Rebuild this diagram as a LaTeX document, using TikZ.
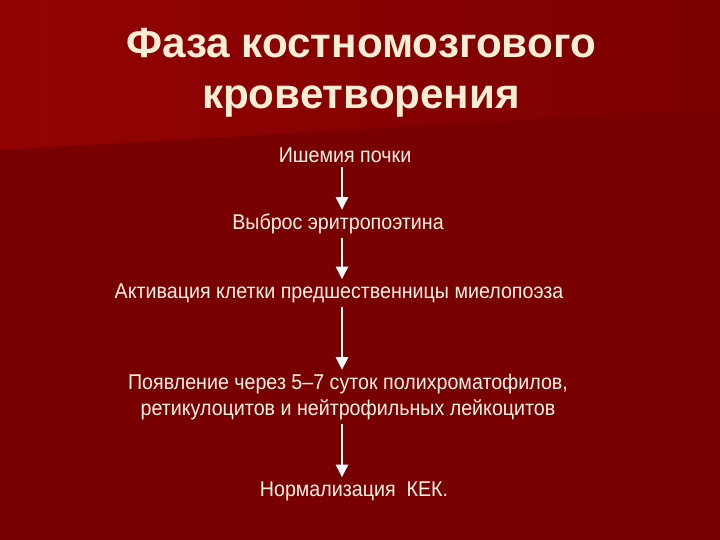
\documentclass[tikz,border=0pt]{standalone}
\usepackage{fontspec}
\setmainfont{Liberation Sans}
\newfontfamily\stagefont[FakeStretch=0.92]{Liberation Sans}
\usepackage{xcolor}
\usetikzlibrary{arrows.meta, positioning, calc}
\definecolor{bgDark}{HTML}{790000}
\definecolor{bgLight}{HTML}{930303}
\definecolor{bgMid}{HTML}{7C0000}
\definecolor{txtCream}{HTML}{FBF2E4}
\definecolor{ttlCream}{HTML}{F8EED6}

\begin{document}
\begin{tikzpicture}
        % Styles
        \tikzstyle{title} = [align=center, text=ttlCream, font=\fontsize{30}{36}\selectfont\bfseries]
        \tikzstyle{stage} = [align=center, text=txtCream, inner sep=0pt, outer sep=3pt, font=\stagefont\fontsize{15.2}{18.5}\selectfont]
        \tikzstyle{arrow} = [line width=2pt, draw=white, -{Triangle[width=8.5pt, length=9pt]}]

        % Background
        \useasboundingbox (0,0) rectangle (18,-13.5);
        \fill[bgDark] (0,0) rectangle (18,-13.5);
        \shade[left color=bgLight, right color=bgMid] (0,0) -- (18,0) -- (18,-2.7) -- (0,-3.75) -- cycle;

        % Nodes
        \node (ttl) [title] at (9.025,-1.82) {Фаза костномозгового\\кроветворения};
        \node (isch) [stage] at (8.625,-3.875) {Ишемия почки};
        \node (epo) [stage] at (8.45,-5.6) {Выброс эритропоэтина};
        \node (activ) [stage] at (8.475,-7.325) {Активация клетки предшественницы миелопоэза};
        \node (cells) [stage] at (8.7,-9.925) {Появление через 5–7 суток полихроматофилов,\\ретикулоцитов и нейтрофильных лейкоцитов};
        \node (norm) [stage] at (8.85,-12.275) {Нормализация\ \ КЕК.};
        \coordinate (axis) at (8.55,0);

        % Arrows
        \draw [arrow] (isch.south -| axis) -- (epo.north -| axis);
        \draw [arrow] (epo.south -| axis) -- (activ.north -| axis);
        \draw [arrow] (activ.south -| axis) -- (cells.north -| axis);
        \draw [arrow] (cells.south -| axis) -- (norm.north -| axis);

    \end{tikzpicture}
\end{document}
